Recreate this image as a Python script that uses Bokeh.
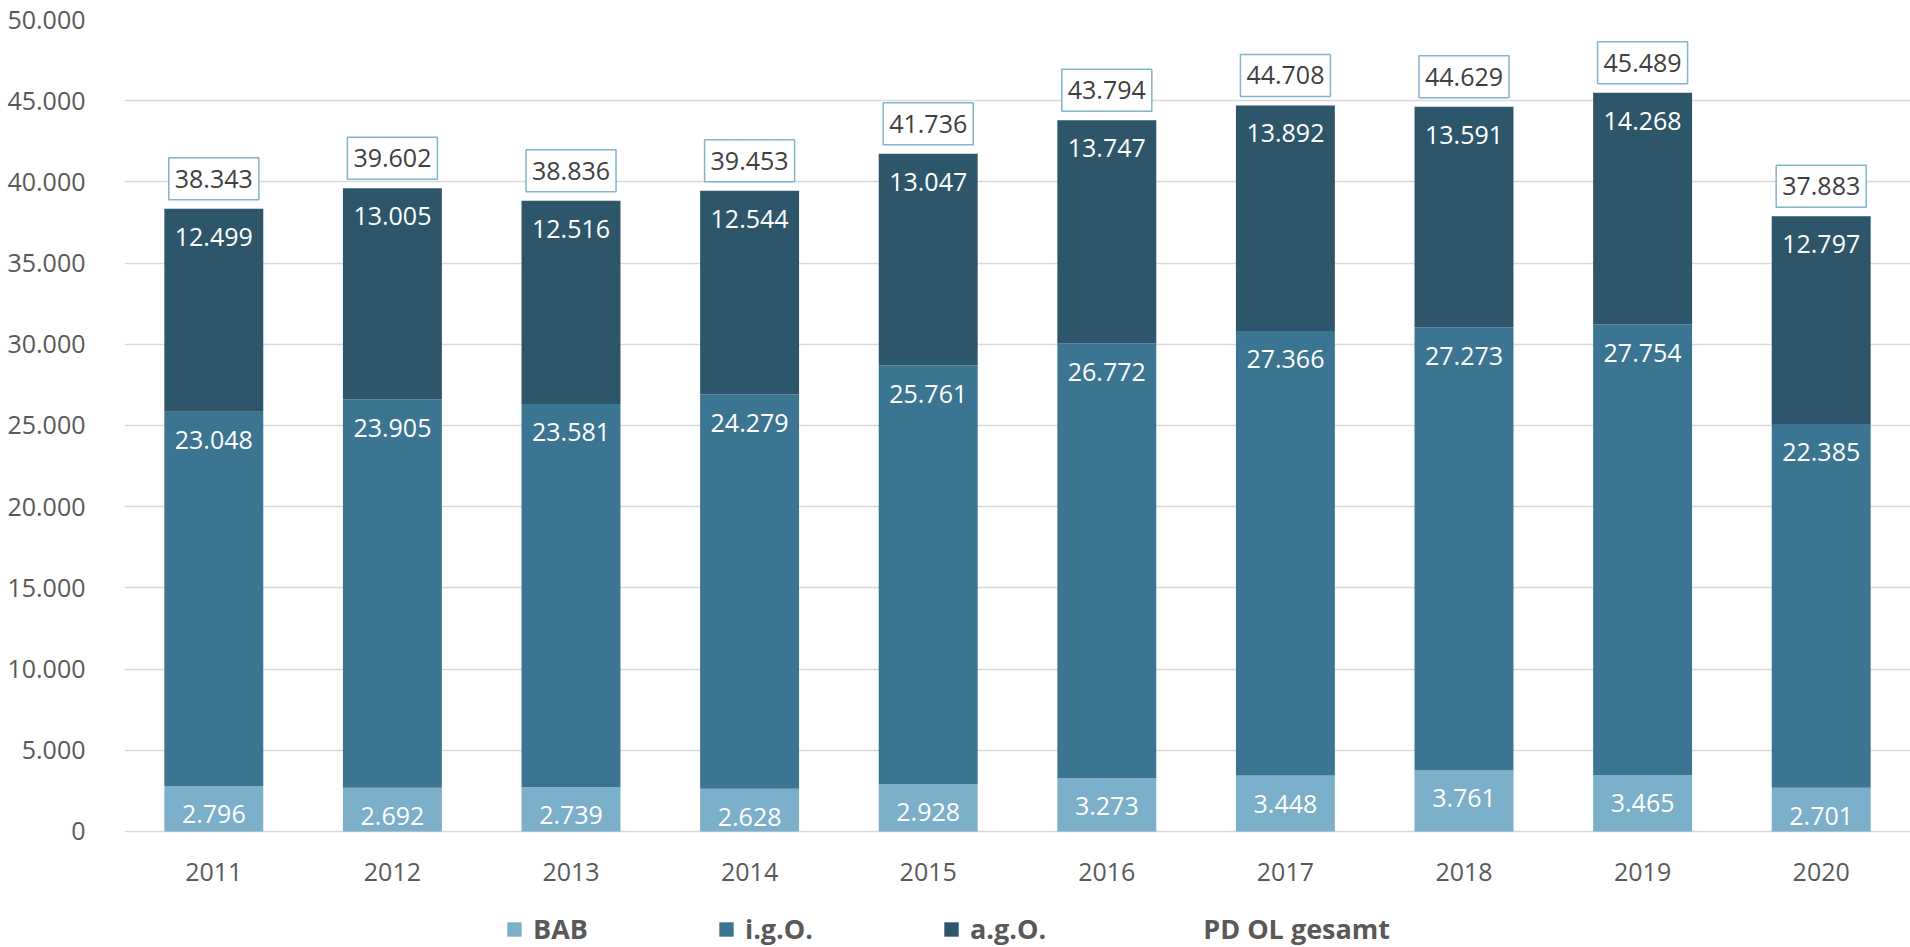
from bokeh.plotting import figure
from bokeh.models import (ColumnDataSource, FactorRange, Legend, LegendItem,
                          CustomJSTickFormatter, Range1d, FixedTicker)
from bokeh.core.properties import value
from bokeh.embed import file_html
from bokeh.resources import INLINE

years = ["2011", "2012", "2013", "2014", "2015", "2016", "2017", "2018", "2019", "2020"]
bab = [2796, 2692, 2739, 2628, 2928, 3273, 3448, 3761, 3465, 2701]
igo = [23048, 23905, 23581, 24279, 25761, 26772, 27366, 27273, 27754, 22385]
ago = [12499, 13005, 12516, 12544, 13047, 13747, 13892, 13591, 14268, 12797]
total = [38343, 39602, 38836, 39453, 41736, 43794, 44708, 44629, 45489, 37883]
y_ticks = [0, 5000, 10000, 15000, 20000, 25000, 30000, 35000, 40000, 45000, 50000]

# value range: 0..50000 shown; extra room below 0 holds year labels and legend
Y_MAX = 50000
Y_MIN = -7143

def de(v):
    return f"{v:,}".replace(",", ".")

c_bab = "#7BAFCA"
c_igo = "#3C7592"
c_ago = "#2D566B"

top_bab = bab
top_igo = [a + b for a, b in zip(bab, igo)]
top_ago = [a + b for a, b in zip(top_igo, ago)]

src = ColumnDataSource(dict(
    x=years, bab=bab, igo=igo, ago=ago, total=total,
    top_bab=top_bab, top_igo=top_igo, top_ago=top_ago,
    l_bab=[de(v) for v in bab], l_igo=[de(v) for v in igo],
    l_ago=[de(v) for v in ago], l_total=[de(v) for v in total],
    zero=[0] * len(years),
))

FONT = "Open Sans"
FS = "25px"

p = figure(x_range=FactorRange(*years, range_padding=0), y_range=Range1d(Y_MIN, Y_MAX),
           width=1910, height=947, output_backend="svg", toolbar_location=None,
           x_axis_location=None,
           min_border_left=124, min_border_right=0, min_border_top=19, min_border_bottom=0)
p.outline_line_color = None
p.background_fill_color = "white"
p.border_fill_color = "white"

W = 0.554
r_bab = p.vbar(x="x", bottom="zero", top="top_bab", width=W, source=src,
               fill_color=c_bab, line_color=None)
r_igo = p.vbar(x="x", bottom="top_bab", top="top_igo", width=W, source=src,
               fill_color=c_igo, line_color=None)
r_ago = p.vbar(x="x", bottom="top_igo", top="top_ago", width=W, source=src,
               fill_color=c_ago, line_color=None)

for top, lab in (("top_bab", "l_bab"), ("top_igo", "l_igo"), ("top_ago", "l_ago")):
    p.text(x="x", y=top, text=lab, source=src, text_color="white",
           text_font=value(FONT), text_font_size=FS, text_align="center",
           text_baseline="middle", y_offset=28)

r_tot = p.text(x="x", y="total", text="l_total", source=src, text_color="#404040",
               text_font=value(FONT), text_font_size=FS, text_align="center",
               text_baseline="middle", y_offset=-30,
               background_fill_color="white", border_line_color="#82B4CF",
               border_line_width=1.5, padding=(6, 12))

# category (year) labels under the baseline
p.text(x="x", y="zero", text="x", source=src, text_color="#595959",
       text_font=value(FONT), text_font_size=FS, text_align="center",
       text_baseline="middle", y_offset=41)

dummy = p.scatter(x=[], y=[], fill_alpha=0, line_alpha=0)

p.yaxis.axis_line_color = None
p.yaxis.major_tick_line_color = None
p.yaxis.minor_tick_line_color = None
p.yaxis.major_label_text_font = FONT
p.yaxis.major_label_text_font_size = FS
p.yaxis.major_label_text_color = "#595959"
p.yaxis.major_label_standoff = 33
p.yaxis.ticker = FixedTicker(ticks=y_ticks)
p.yaxis.formatter = CustomJSTickFormatter(
    code="return Math.round(tick).toString().replace(/\\B(?=(\\d{3})+(?!\\d))/g, '.');")

p.xgrid.grid_line_color = None
p.ygrid.grid_line_color = "#D9D9D9"
p.ygrid.grid_line_width = 1.3
p.ygrid.ticker = FixedTicker(ticks=y_ticks)

legend = Legend(items=[
    LegendItem(label="BAB", renderers=[r_bab]),
    LegendItem(label="i.g.O.", renderers=[r_igo]),
    LegendItem(label="a.g.O.", renderers=[r_ago]),
    LegendItem(label="PD OL gesamt", renderers=[dummy]),
], orientation="horizontal", location=(381, 0), padding=0, margin=0,
    spacing=129, glyph_width=18, glyph_height=18, label_standoff=10,
    label_text_font=FONT, label_text_font_size="27px", label_text_font_style="bold",
    label_text_color="#595959", border_line_color=None, background_fill_alpha=0)
p.add_layout(legend, "center")

open("out.html", "w").write(file_html(p, INLINE))
